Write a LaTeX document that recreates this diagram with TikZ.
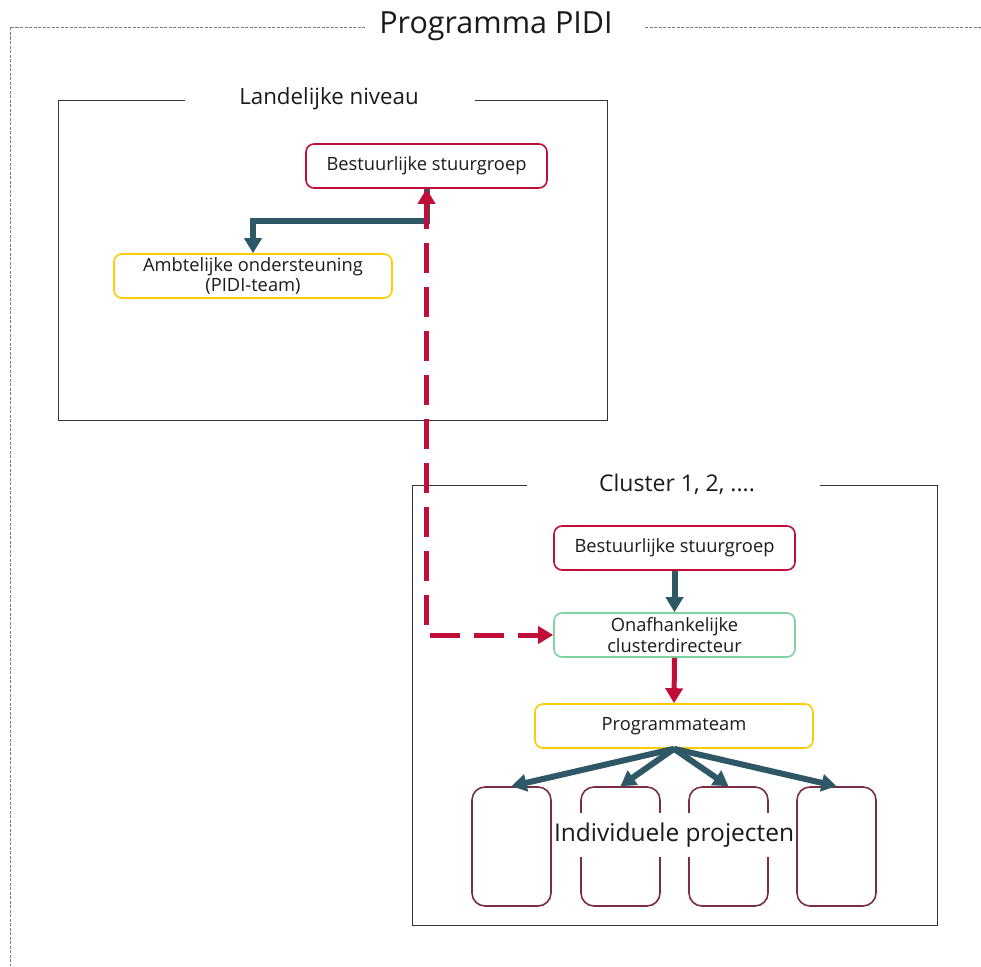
\documentclass[tikz,border=0pt]{standalone}
\usepackage{fontspec}
\setmainfont{Open Sans}
\usetikzlibrary{arrows.meta}
\definecolor{cred}{HTML}{C00D3A}
\definecolor{cteal}{HTML}{2F5866}
\definecolor{cyel}{HTML}{FFCC00}
\definecolor{cgreen}{HTML}{7ED3A0}
\definecolor{cmaroon}{HTML}{7B2D45}
\definecolor{ctext}{HTML}{1A1A1A}
\definecolor{cframe}{HTML}{333333}
\definecolor{couter}{HTML}{7A7A7A}
\tikzset{
  box/.style={draw, line width=1.6pt, rounded corners=8pt, minimum width=241pt, minimum height=44pt, align=center, font=\fontsize{18.3pt}{20.5pt}\selectfont, text=ctext, inner sep=1pt},
  proj/.style={draw=cmaroon, line width=1.6pt, rounded corners=13pt, minimum width=79pt, minimum height=119pt},
  frame/.style={draw=cframe, line width=1pt},
  outer/.style={draw=couter, line width=0.9pt, dash pattern=on 3pt off 1.5pt},
  framelabel/.style={text=ctext, inner sep=0pt},
  tealarr/.style={draw=cteal, line width=6pt, -{Triangle[length=15pt,width=17pt]}},
  redarr/.style={draw=cred, line width=5pt, -{Triangle[length=15pt,width=17pt]}},
  reddash/.style={draw=cred, line width=5pt, dash pattern=on 30pt off 14pt, dash phase=4pt, {Triangle[length=15pt,width=17pt]}-{Triangle[length=15pt,width=17pt]}}
}
\begin{document}
\begin{tikzpicture}[x=1pt,y=-1pt]
\useasboundingbox (0,0) rectangle (981,966);

% outer dashed frame
\draw[outer] (365,27) -- (10,27) -- (10,966);
\draw[outer] (645,27) -- (981,27);
\node[framelabel, font=\fontsize{30.5pt}{34pt}\selectfont] (ptitle) at (496,26) {Programma PIDI};

% Landelijke niveau frame
\draw[frame] (185,100) -- (58,100) -- (58,420) -- (607,420) -- (607,100) -- (475,100);
\node[framelabel, font=\fontsize{22.3pt}{26pt}\selectfont] (ltitle) at (329,99) {Landelijke niveau};

% Cluster frame
\draw[frame] (527,485) -- (412,485) -- (412,925) -- (937,925) -- (937,485) -- (820,485);
\node[framelabel, font=\fontsize{23pt}{26pt}\selectfont] (ctitle) at (677,484) {Cluster 1, 2, ....};

% nodes top
\node[box, draw=cred] (bs1) at (426.5,166) {Bestuurlijke stuurgroep};
\node[box, draw=cyel, minimum width=278pt] (amb) at (253,276) {Ambtelijke ondersteuning\\(PIDI-team)};

% nodes cluster
\node[box, draw=cred] (bs2) at (674.5,548) {Bestuurlijke stuurgroep};
\node[box, draw=cgreen] (od) at (674.5,635) {Onafhankelijke\\clusterdirecteur};
\node[box, draw=cyel, minimum width=278pt] (pt) at (674,726) {Programmateam};

% projects
\node[proj] (p1) at (511.5,846.5) {};
\node[proj] (p2) at (620.5,846.5) {};
\node[proj] (p3) at (728.5,846.5) {};
\node[proj] (p4) at (836.5,846.5) {};
\node[fill=white, inner xsep=2pt, minimum height=44pt, text=ctext, font=\fontsize{24.5pt}{28pt}\selectfont] (ip) at (674,835) {Individuele projecten};

% connectors
\draw[tealarr] (bs1.south) -- ++(0,32) -| (amb.north);
\draw[reddash] (bs1.south) -- (bs1.south |- od.west) -- (od.west);
\draw[tealarr] (bs2.south) -- (od.north);
\draw[redarr] (od.south) -- (pt.north);
\draw[tealarr] (pt.south) -- (p1.north);
\draw[tealarr] (pt.south) -- (p2.north);
\draw[tealarr] (pt.south) -- (p3.north);
\draw[tealarr] (pt.south) -- (p4.north);
\end{tikzpicture}
\end{document}
